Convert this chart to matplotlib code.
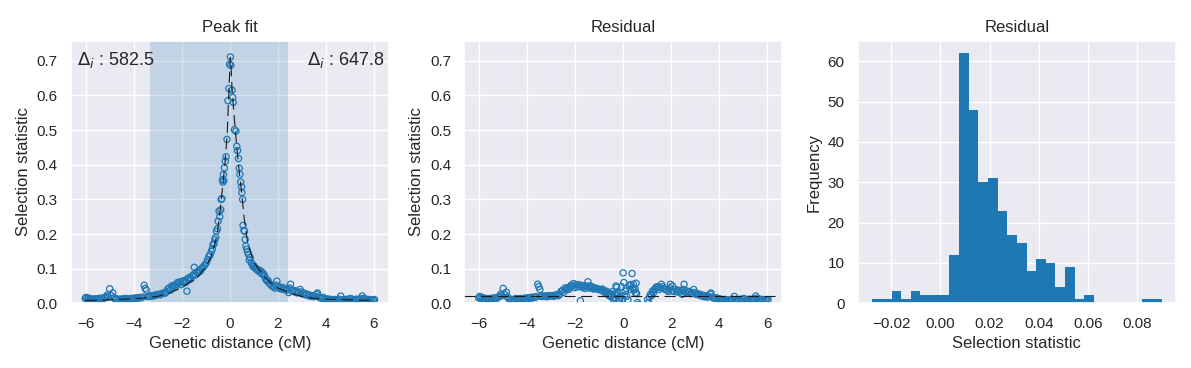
import numpy as np
import matplotlib
matplotlib.use("Agg")
import matplotlib.pyplot as plt
from matplotlib.ticker import MultipleLocator
import seaborn as sns

dist_cm = [
    -6.02, -5.98, -5.94, -5.89, -5.84, -5.79, -5.73, -5.68, -5.62, -5.57,
    -5.51, -5.45, -5.39, -5.33, -5.27, -5.21, -5.15, -5.10, -5.05, -5.00,
    -4.93, -4.87, -4.82, -4.76, -4.70, -4.64, -4.58, -4.52, -4.46, -4.40,
    -4.34, -4.28, -4.22, -4.16, -4.10, -4.04, -3.98, -3.92, -3.86, -3.80,
    -3.74, -3.68, -3.62, -3.56, -3.52, -3.47, -3.42, -3.36,
    -3.30, -3.24, -3.18, -3.12, -3.06, -3.00, -2.94, -2.88, -2.82, -2.76,
    -2.70, -2.64, -2.58, -2.52, -2.47, -2.42, -2.37, -2.32, -2.27, -2.22,
    -2.17, -2.12, -2.07, -2.02, -1.97, -1.92, -1.87, -1.82, -1.78, -1.74,
    -1.70, -1.65, -1.60, -1.55, -1.50, -1.47, -1.42, -1.37, -1.32, -1.27,
    -1.22, -1.17, -1.12, -1.07, -1.02, -0.97, -0.92, -0.86, -0.81, -0.76,
    -0.72, -0.69, -0.65, -0.62, -0.58, -0.55, -0.51, -0.48, -0.44, -0.41,
    -0.37, -0.35, -0.32, -0.30, -0.28, -0.26, -0.25, -0.22, -0.18, -0.15,
    -0.11, -0.07, -0.03, 0.00, 0.03, 0.05, 0.10, 0.13, 0.15, 0.20,
    0.26, 0.30, 0.33, 0.37, 0.40, 0.43, 0.46, 0.50, 0.51, 0.54,
    0.56, 0.60, 0.62, 0.65, 0.68, 0.72, 0.75, 0.79, 0.82, 0.86,
    0.90, 0.94, 0.98, 1.02, 1.06, 1.10, 1.14, 1.18, 1.22, 1.26,
    1.30, 1.34, 1.38, 1.42, 1.46, 1.50, 1.55, 1.60, 1.65, 1.70,
    1.76, 1.82, 1.88, 1.94, 1.97, 2.02, 2.06, 2.12, 2.18, 2.24,
    2.30, 2.36, 2.42, 2.46, 2.50, 2.54, 2.58, 2.64, 2.70, 2.76,
    2.82, 2.88, 2.94, 2.97, 3.03, 3.09, 3.15, 3.21, 3.27, 3.33,
    3.39, 3.45, 3.51, 3.57, 3.63, 3.66, 3.72, 3.78, 3.84, 3.90,
    3.96, 4.02, 4.08, 4.14, 4.20, 4.26, 4.32, 4.38, 4.44, 4.50,
    4.56, 4.63, 4.68, 4.74, 4.80, 4.86, 4.92, 4.98, 5.04, 5.10,
    5.16, 5.22, 5.28, 5.34, 5.40, 5.46, 5.53, 5.58, 5.64, 5.70,
    5.76, 5.82, 5.88, 5.94, 6.00, 6.04,
]
stat_obs = [
    0.014, 0.017, 0.012, 0.015, 0.011, 0.013, 0.012, 0.010, 0.013, 0.011,
    0.012, 0.014, 0.012, 0.015, 0.013, 0.016, 0.019, 0.024, 0.018, 0.042,
    0.022, 0.030, 0.016, 0.011, 0.013, 0.009, 0.012, 0.010, 0.013, 0.011,
    0.014, 0.012, 0.013, 0.011, 0.014, 0.013, 0.015, 0.014, 0.016, 0.015,
    0.017, 0.016, 0.018, 0.052, 0.043, 0.038, 0.019, 0.020,
    0.021, 0.022, 0.021, 0.023, 0.024, 0.025, 0.026, 0.025, 0.028, 0.030,
    0.029, 0.032, 0.041, 0.044, 0.038, 0.050, 0.046, 0.052, 0.048, 0.055,
    0.060, 0.058, 0.062, 0.054, 0.064, 0.059, 0.066, 0.061, 0.035, 0.072,
    0.068, 0.075, 0.071, 0.079, 0.083, 0.104, 0.082, 0.090, 0.088, 0.095,
    0.093, 0.100, 0.103, 0.108, 0.112, 0.117, 0.126, 0.136, 0.140, 0.150,
    0.158, 0.170, 0.172, 0.184, 0.190, 0.208, 0.215, 0.237, 0.266, 0.250,
    0.270, 0.300, 0.302, 0.357, 0.350, 0.372, 0.354, 0.391, 0.410, 0.423,
    0.473, 0.585, 0.620, 0.690, 0.711, 0.687, 0.615, 0.594, 0.580, 0.501,
    0.497, 0.453, 0.441, 0.418, 0.390, 0.372, 0.350, 0.336, 0.320, 0.300,
    0.225, 0.210, 0.208, 0.184, 0.165, 0.156, 0.148, 0.141, 0.125, 0.132,
    0.118, 0.112, 0.106, 0.108, 0.102, 0.100, 0.098, 0.094, 0.096, 0.090,
    0.093, 0.085, 0.088, 0.083, 0.078, 0.070, 0.065, 0.066, 0.058, 0.055,
    0.050, 0.048, 0.044, 0.052, 0.064, 0.045, 0.048, 0.042, 0.046, 0.040,
    0.043, 0.038, 0.041, 0.031, 0.044, 0.055, 0.035, 0.038, 0.033, 0.036,
    0.030, 0.031, 0.040, 0.033, 0.027, 0.030, 0.025, 0.027, 0.022, 0.024,
    0.020, 0.022, 0.019, 0.021, 0.026, 0.030, 0.018, 0.016, 0.014, 0.017,
    0.012, 0.013, 0.011, 0.012, 0.010, 0.011, 0.009, 0.011, 0.008, 0.010,
    0.012, 0.021, 0.010, 0.009, 0.011, 0.008, 0.012, 0.010, 0.014, 0.009,
    0.011, 0.010, 0.012, 0.009, 0.011, 0.013, 0.021, 0.014, 0.010, 0.012,
    0.009, 0.011, 0.008, 0.010, 0.009, 0.011,
]
resid = [
    0.016, 0.020, 0.014, 0.017, 0.013, 0.015, 0.013, 0.012, 0.014, 0.013,
    0.012, 0.015, 0.013, 0.016, 0.014, 0.018, 0.020, 0.027, 0.022, 0.043,
    0.025, 0.032, 0.018, 0.013, 0.012, 0.010, 0.011, 0.011, 0.014, 0.012,
    0.013, 0.014, 0.011, 0.013, 0.015, 0.012, 0.016, 0.014, 0.017, 0.015,
    0.018, 0.017, 0.019, 0.055, 0.048, 0.040, 0.020, 0.021,
    0.020, 0.021, 0.019, 0.022, 0.021, 0.022, 0.022, 0.020, 0.024, 0.025,
    0.022, 0.026, 0.035, 0.038, 0.032, 0.044, 0.039, 0.045, 0.040, 0.047,
    0.052, 0.050, 0.057, 0.045, 0.054, 0.048, 0.054, 0.048, 0.007, 0.052,
    0.046, 0.050, 0.043, 0.048, 0.050, 0.062, 0.044, 0.050, 0.044, 0.047,
    0.041, 0.044, 0.043, 0.042, 0.040, 0.039, 0.040, 0.041, 0.033, 0.035,
    0.030, 0.035, 0.026, 0.029, 0.022, 0.028, 0.019, 0.024, 0.034, 0.012,
    0.016, 0.028, 0.015, 0.050, 0.030, 0.046, 0.022, 0.030, 0.012, 0.008,
    0.018, 0.048, 0.012, 0.088, 0.060, 0.022, 0.035, 0.043, 0.020, 0.010,
    0.052, 0.040, 0.054, 0.086, 0.045, 0.055, 0.038, 0.042, 0.030, 0.058,
    0.028, 0.002, -0.004, -0.012, -0.020, -0.024, -0.018, -0.015, -0.022, -0.010,
    -0.016, -0.006, -0.009, 0.011, 0.002, 0.018, 0.026, 0.022, 0.035, 0.030,
    0.040, 0.042, 0.047, 0.045, 0.048, 0.040, 0.045, 0.055, 0.048, 0.042,
    0.040, 0.038, 0.034, 0.045, 0.055, 0.036, 0.050, 0.034, 0.040, 0.033,
    0.038, 0.032, 0.036, 0.026, 0.040, 0.055, 0.032, 0.036, 0.030, 0.034,
    0.028, 0.029, 0.040, 0.031, 0.026, 0.028, 0.024, 0.026, 0.021, 0.023,
    0.019, 0.022, 0.018, 0.020, 0.026, 0.030, 0.017, 0.016, 0.013, 0.016,
    0.012, 0.013, 0.010, 0.011, 0.009, 0.011, 0.008, 0.010, 0.008, 0.010,
    0.012, 0.020, 0.010, 0.008, 0.011, 0.008, 0.012, 0.010, 0.014, 0.009,
    0.011, 0.010, 0.012, 0.009, 0.011, 0.013, 0.021, 0.015, 0.010, 0.012,
    0.009, 0.011, 0.008, 0.010, 0.009, 0.011,
]
resid_mean = 0.021

# fitted peak (dashed line)
fit_x = [-6.0, -5.0, -4.0, -3.5, -3.0, -2.5, -2.0, -1.5, -1.25, -1.0,
         -0.8, -0.6, -0.5, -0.4, -0.3, -0.2, -0.1, -0.05, 0.0, 0.03,
         0.06, 0.1, 0.2, 0.3, 0.4, 0.5, 0.6, 0.75, 1.0, 1.4,
         1.7, 2.0, 2.5, 3.0, 3.5, 4.0, 5.0, 6.0]
fit_y = [0.008, 0.010, 0.013, 0.016, 0.020, 0.030, 0.045, 0.068, 0.082, 0.105,
         0.130, 0.175, 0.210, 0.265, 0.330, 0.400, 0.490, 0.580, 0.660, 0.710,
         0.680, 0.620, 0.530, 0.450, 0.380, 0.320, 0.250, 0.175, 0.120, 0.080,
         0.060, 0.045, 0.030, 0.020, 0.015, 0.012, 0.010, 0.008]

span_left, span_right = -3.32, 2.43
delta_left, delta_right = 582.5, 647.8

# residual histogram (30 bins)
hist_lo, hist_hi = -0.0277, 0.0899
hist_counts = [1, 1, 3, 1, 3, 2, 2, 2, 12, 62,
               48, 30, 31, 23, 17, 15, 8, 11, 10, 4,
               9, 1, 2, 0, 0, 0, 0, 0, 1, 1]

sns.set_theme()
plt.rcParams['font.family'] = ['Liberation Sans', 'DejaVu Sans']
plt.rcParams['mathtext.fontset'] = 'dejavusans'

fig, axes = plt.subplots(1, 3, figsize=(11.91, 3.68), dpi=100)
fig.subplots_adjust(left=0.0594, right=0.9874, top=0.8894, bottom=0.1758, wspace=0.2366)

blue = '#1f77b4'

ax = axes[0]
ax.axvspan(span_left, span_right, color=blue, alpha=0.2, lw=0)
ax.plot(fit_x, fit_y, color='k', lw=0.8, dashes=(10, 5))
ax.scatter(dist_cm, stat_obs, s=20, facecolors='none', edgecolors=blue, linewidths=0.9)
ax.set_ylim(0, 0.758)
ax.xaxis.set_major_locator(MultipleLocator(2))
ax.set_title("Peak fit")
ax.set_xlabel("Genetic distance (cM)")
ax.set_ylabel("Selection statistic")
ax.text(0.02, 0.965, r"$\Delta_i$ : %.1f" % delta_left, transform=ax.transAxes,
        ha='left', va='top', fontsize=13)
ax.text(0.985, 0.965, r"$\Delta_i$ : %.1f" % delta_right, transform=ax.transAxes,
        ha='right', va='top', fontsize=13)

ax = axes[1]
ax.scatter(dist_cm, resid, s=20, facecolors='none', edgecolors=blue, linewidths=0.9)
ax.axhline(resid_mean, color='k', lw=0.8, dashes=(10, 5))
ax.set_ylim(0, 0.758)
ax.xaxis.set_major_locator(MultipleLocator(2))
ax.set_title("Residual")
ax.set_xlabel("Genetic distance (cM)")
ax.set_ylabel("Selection statistic")

ax = axes[2]
edges = np.linspace(hist_lo, hist_hi, len(hist_counts) + 1)
centers = (edges[:-1] + edges[1:]) / 2
ax.hist(centers, bins=edges, weights=hist_counts, color=blue, lw=0, edgecolor='none')
ax.xaxis.set_major_locator(MultipleLocator(0.02))
ax.set_title("Residual")
ax.set_xlabel("Selection statistic")
ax.set_ylabel("Frequency")

fig.savefig("out.png", dpi=100)
